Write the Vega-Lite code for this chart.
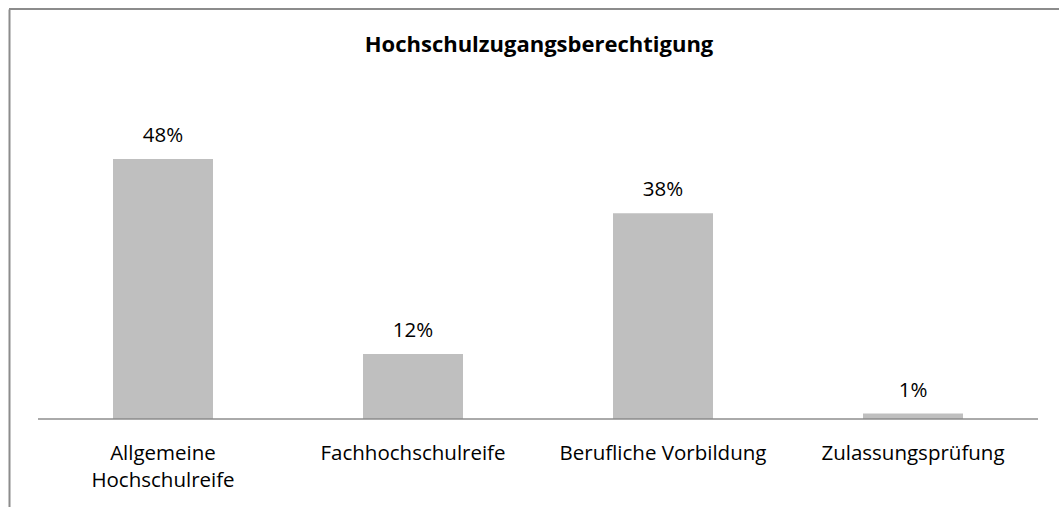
{
  "$schema": "https://vega.github.io/schema/vega-lite/v6.json",
  "autosize": {"type": "none"},
  "padding": {"left": 9, "top": 9, "right": 0, "bottom": 0},
  "width": 1050,
  "height": 498,
  "background": "white",
  "config": {
    "view": {"stroke": null},
    "font": "Open Sans"
  },
  "title": {
    "text": "Hochschulzugangsberechtigung",
    "anchor": "middle",
    "orient": "top",
    "baseline": "alphabetic",
    "offset": -66,
    "dx": 5,
    "font": "Open Sans",
    "fontSize": 22,
    "fontWeight": "bold",
    "color": "#000000"
  },
  "data": {
    "values": [
      {"Kategorie": "Allgemeine Hochschulreife", "Anteil": 0.48},
      {"Kategorie": "Fachhochschulreife", "Anteil": 0.12},
      {"Kategorie": "Berufliche Vorbildung", "Anteil": 0.38},
      {"Kategorie": "Zulassungsprüfung", "Anteil": 0.01}
    ]
  },
  "layer": [
    {
      "mark": {"type": "bar", "size": 100, "color": "#bfbfbf"},
      "encoding": {
        "x": {
          "field": "Kategorie",
          "type": "nominal",
          "sort": null,
          "scale": {"type": "band", "paddingInner": 0, "paddingOuter": 0.1, "align": 0.58},
          "axis": {
            "title": null,
            "orient": "bottom",
            "offset": -88,
            "domain": false,
            "ticks": false,
            "tickSize": 0,
            "labelPadding": 24,
            "labelAngle": 0,
            "labelFont": "Open Sans",
            "labelFontSize": 20.5,
            "labelColor": "#000000",
            "labelLineHeight": 27,
            "labelBaseline": "top",
            "labelLimit": 0,
            "labelExpr": "datum.label == 'Allgemeine Hochschulreife' ? ['Allgemeine', 'Hochschulreife'] : datum.label"
          }
        },
        "y": {
          "field": "Anteil",
          "type": "quantitative",
          "scale": {"domain": [-0.16245, 0.7569], "nice": false, "zero": false},
          "axis": {
            "orient": "left",
            "title": null,
            "labels": false,
            "ticks": false,
            "grid": false,
            "domain": true,
            "domainColor": "#8c8c8c",
            "domainWidth": 2
          }
        }
      }
    },
    {
      "mark": {"type": "tick", "orient": "horizontal", "size": 250, "thickness": 2, "color": "#868686"},
      "encoding": {
        "x": {"field": "Kategorie", "type": "nominal", "sort": null},
        "y": {"datum": 0, "type": "quantitative"}
      }
    },
    {
      "mark": {"type": "rule", "color": "#8c8c8c", "strokeWidth": 2},
      "encoding": {
        "y": {"datum": 0.7569, "type": "quantitative"}
      }
    },
    {
      "mark": {"type": "text", "baseline": "alphabetic", "dy": -17, "font": "Open Sans", "fontSize": 20.5, "color": "#000000"},
      "encoding": {
        "x": {"field": "Kategorie", "type": "nominal", "sort": null},
        "y": {"field": "Anteil", "type": "quantitative"},
        "text": {"field": "Anteil", "type": "quantitative", "format": ".0%"}
      }
    }
  ]
}
